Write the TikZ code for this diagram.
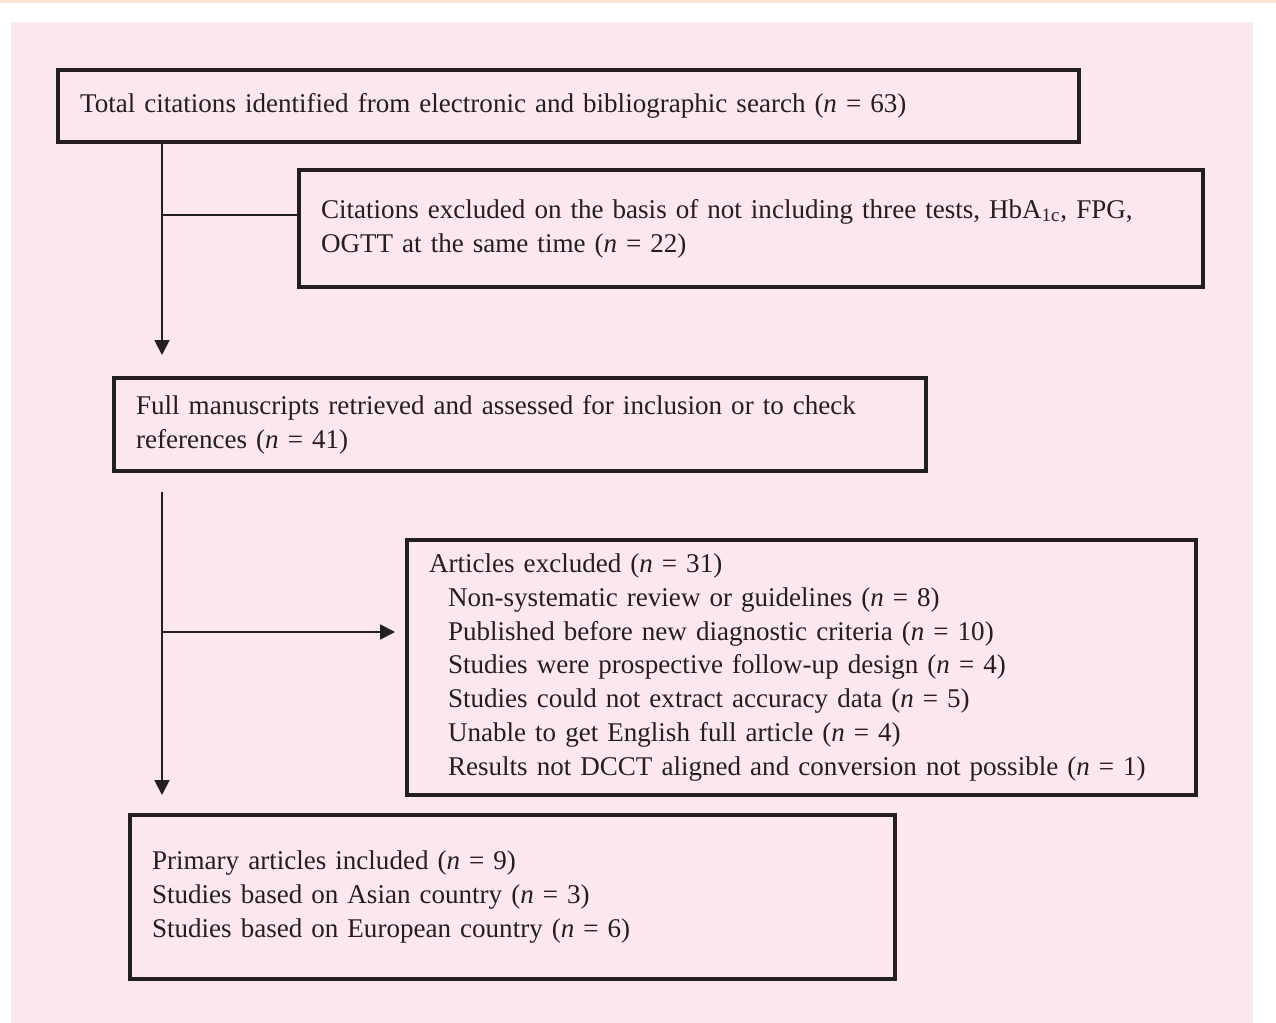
\documentclass[tikz,border=0pt]{standalone}
\usepackage{fontspec}
\setmainfont{Liberation Serif}
\usepackage{xcolor}
\usepackage{tikz}
\usetikzlibrary{arrows.meta, positioning, calc}

\definecolor{panelpink}{RGB}{252,230,239}
\definecolor{toppeach}{RGB}{249,226,208}
\definecolor{inkline}{RGB}{35,31,32}

\begin{document}
\begin{tikzpicture}[x=0.02cm, y=-0.02cm,
    boxstyle/.style={rectangle, draw=inkline, line width=2.2pt, inner xsep=0.44cm, inner ysep=0pt, align=left,
        font=\fontsize{15.4}{19.3}\selectfont, text=inkline},
    flowline/.style={draw=inkline, line width=1.1pt},
    flowarrow/.style={flowline, -{Triangle[width=8.5pt, length=8.5pt]}}]

    \useasboundingbox (0,0) rectangle (1276,1023);
    \fill[toppeach] (0,0) rectangle (1276,3);
    \fill[panelpink] (11,22) rectangle (1253,1023);

    \node[boxstyle, text width=19.54cm, minimum height=1.44cm] (citations) at (568.5,106)
        {Total citations identified from electronic and bibliographic search (\textit{n} = 63)};
    \node[boxstyle, text width=17.2cm, minimum height=2.34cm] (excluded1) at (751,228.5)
        {Citations excluded on the basis of not including three tests, HbA\textsubscript{1c}, FPG,\\OGTT at the same time (\textit{n} = 22)};
    \node[boxstyle, text width=15.36cm, minimum height=1.86cm] (fulltext) at (520,424.5)
        {Full manuscripts retrieved and assessed for inclusion or to check\\references (\textit{n} = 41)};
    \node[boxstyle, text width=14.9cm, minimum height=5.1cm] (excluded2) at (801.5,667.5)
        {Articles excluded (\textit{n} = 31)\\
        \hspace*{0.38cm}Non-systematic review or guidelines (\textit{n} = 8)\\
        \hspace*{0.38cm}Published before new diagnostic criteria (\textit{n} = 10)\\
        \hspace*{0.38cm}Studies were prospective follow-up design (\textit{n} = 4)\\
        \hspace*{0.38cm}Studies could not extract accuracy data (\textit{n} = 5)\\
        \hspace*{0.38cm}Unable to get English full article (\textit{n} = 4)\\
        \hspace*{0.38cm}Results not DCCT aligned and conversion not possible (\textit{n} = 1)};
    \node[boxstyle, text width=14.42cm, minimum height=3.28cm] (included) at (512.5,897)
        {Primary articles included (\textit{n} = 9)\\
        Studies based on Asian country (\textit{n} = 3)\\
        Studies based on European country (\textit{n} = 6)};

    \coordinate (split1) at (162,215);
    \coordinate (end1) at (162,355);
    \coordinate (start2) at (162,492);
    \coordinate (split2) at (162,632);
    \coordinate (end2) at (162,795);
    \coordinate (tip2) at (395,632);

    \draw[flowarrow] (citations.south -| split1) -- (end1);
    \draw[flowline] (split1) -- (split1 -| excluded1.west);
    \draw[flowarrow] (start2) -- (end2);
    \draw[flowarrow] (split2) -- (tip2);
\end{tikzpicture}
\end{document}
